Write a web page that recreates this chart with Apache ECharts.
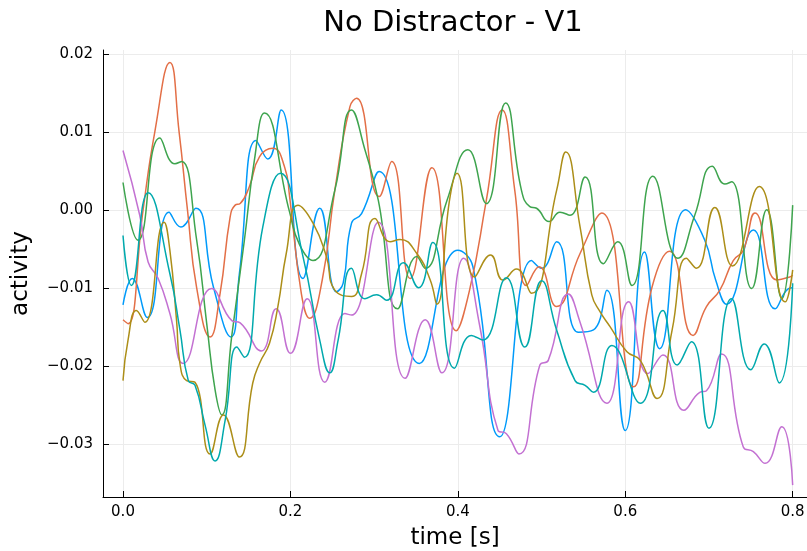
<!DOCTYPE html>
<html><head><meta charset="utf-8">
<script src="https://cdn.jsdelivr.net/npm/echarts@6/dist/echarts.min.js"></script>
<style>html,body{margin:0;padding:0;background:#fff}#c{width:807px;height:551px}</style>
</head><body><div id="c"></div>
<script>
// ---- data (time in s, activity) ----
const xTicks = [0, 0.2, 0.4, 0.6, 0.8];
const yTicks = [-0.03, -0.02, -0.01, 0.0, 0.01, 0.02];

const t1 = [0, 0.011, 0.029, 0.055, 0.069, 0.087, 0.108, 0.129, 0.139, 0.159, 0.173, 0.189, 0.215, 0.235, 0.255, 0.263, 0.273, 0.285, 0.306, 0.354, 0.400, 0.418, 0.450, 0.488, 0.500, 0.518, 0.544, 0.562, 0.578, 0.600, 0.623, 0.641, 0.672, 0.695, 0.708, 0.721, 0.753, 0.779, 0.795, 0.800];
const y1 = [-0.0122, -0.0088, -0.0138, -0.0003, -0.0022, 0.0002, -0.0099, -0.0163, -0.0082, 0.0089, 0.0065, 0.0128, -0.0088, 0.0002, -0.0105, -0.0094, -0.0017, -0.0005, 0.0049, -0.0197, -0.0052, -0.0073, -0.0291, -0.0065, -0.0075, -0.0041, -0.0157, -0.0154, -0.0103, -0.0283, -0.0054, -0.0178, 0.0000, -0.0039, -0.0090, -0.0121, -0.0026, -0.0127, -0.0101, -0.0100];

const t2 = [0, 0.006, 0.024, 0.038, 0.056, 0.067, 0.077, 0.088, 0.104, 0.116, 0.128, 0.134, 0.140, 0.151, 0.163, 0.179, 0.193, 0.199, 0.213, 0.223, 0.238, 0.253, 0.271, 0.279, 0.306, 0.321, 0.343, 0.369, 0.398, 0.414, 0.434, 0.453, 0.468, 0.482, 0.497, 0.518, 0.546, 0.572, 0.610, 0.632, 0.653, 0.681, 0.697, 0.713, 0.729, 0.741, 0.755, 0.781, 0.797, 0.800];
const y2 = [-0.0141, -0.0146, 0.0000, 0.0100, 0.0189, 0.0100, 0.0000, -0.0100, -0.0163, -0.0107, -0.0009, 0.0006, 0.0008, 0.0030, 0.0068, 0.0079, 0.0055, 0.0017, -0.0107, -0.0139, -0.0090, 0.0025, 0.0132, 0.0143, 0.0017, 0.0062, -0.0088, 0.0054, -0.0155, -0.0103, 0.0012, 0.0128, 0.0025, -0.0097, -0.0073, -0.0124, -0.0056, -0.0004, -0.0227, -0.0099, -0.0053, -0.0161, -0.0124, -0.0103, -0.0065, -0.0052, -0.0004, -0.0090, -0.0086, -0.0084];

const t3 = [0, 0.018, 0.044, 0.062, 0.070, 0.088, 0.100, 0.110, 0.118, 0.130, 0.145, 0.157, 0.169, 0.199, 0.211, 0.227, 0.253, 0.273, 0.289, 0.305, 0.328, 0.351, 0.361, 0.387, 0.412, 0.434, 0.457, 0.476, 0.486, 0.494, 0.509, 0.522, 0.534, 0.552, 0.574, 0.591, 0.608, 0.633, 0.663, 0.683, 0.704, 0.719, 0.727, 0.751, 0.769, 0.787, 0.800];
const y3 = [0.0035, -0.0039, 0.0092, 0.0059, 0.0062, -0.0039, -0.0146, -0.0231, -0.0263, -0.0161, -0.0039, 0.0064, 0.0124, -0.0003, -0.0045, -0.0065, 0.0025, 0.0128, 0.0077, 0.0012, -0.0127, -0.0060, -0.0075, 0.0012, 0.0077, 0.0008, 0.0137, 0.0025, 0.0004, 0.0002, -0.0015, -0.0003, -0.0007, 0.0042, -0.0069, -0.0041, -0.0097, 0.0043, -0.0062, -0.0007, 0.0056, 0.0033, 0.0036, -0.0101, 0.0000, -0.0114, 0.0006];

const t4 = [0, 0.020, 0.030, 0.042, 0.056, 0.072, 0.106, 0.130, 0.140, 0.165, 0.183, 0.200, 0.220, 0.241, 0.265, 0.273, 0.305, 0.337, 0.361, 0.381, 0.407, 0.426, 0.448, 0.458, 0.473, 0.498, 0.508, 0.532, 0.546, 0.578, 0.604, 0.627, 0.645, 0.670, 0.689, 0.697, 0.715, 0.741, 0.753, 0.767, 0.787, 0.800];
const y4 = [0.0076, -0.0007, -0.0067, -0.0088, -0.0133, -0.0197, -0.0101, -0.0142, -0.0145, -0.0181, -0.0127, -0.0184, -0.0114, -0.0221, -0.0133, -0.0135, -0.0016, -0.0216, -0.0141, -0.0209, -0.0062, -0.0148, -0.0283, -0.0287, -0.0313, -0.0199, -0.0193, -0.0108, -0.0144, -0.0248, -0.0118, -0.0210, -0.0186, -0.0257, -0.0234, -0.0232, -0.0185, -0.0304, -0.0310, -0.0325, -0.0278, -0.0353];

const t5 = [0, 0.006, 0.016, 0.026, 0.049, 0.056, 0.064, 0.068, 0.076, 0.086, 0.104, 0.120, 0.139, 0.155, 0.163, 0.175, 0.185, 0.195, 0.209, 0.227, 0.243, 0.253, 0.273, 0.285, 0.301, 0.319, 0.331, 0.351, 0.367, 0.375, 0.390, 0.399, 0.420, 0.439, 0.454, 0.470, 0.488, 0.518, 0.529, 0.546, 0.560, 0.570, 0.582, 0.602, 0.618, 0.638, 0.656, 0.673, 0.685, 0.707, 0.728, 0.760, 0.791, 0.800];
const y5 = [-0.0219, -0.0167, -0.0129, -0.0144, -0.0016, -0.0052, -0.0142, -0.0197, -0.0219, -0.0221, -0.0313, -0.0263, -0.0317, -0.0222, -0.0197, -0.0171, -0.0124, -0.0056, 0.0006, -0.0017, -0.0060, -0.0103, -0.0111, -0.0082, -0.0011, -0.0041, -0.0038, -0.0056, -0.0090, -0.0121, 0.0012, 0.0047, -0.0086, -0.0058, -0.0090, -0.0076, -0.0107, 0.0025, 0.0074, -0.0022, -0.0109, -0.0131, -0.0150, -0.0182, -0.0193, -0.0242, -0.0154, -0.0062, -0.0075, 0.0003, -0.0072, 0.0030, -0.0118, -0.0077];

const t6 = [0, 0.010, 0.030, 0.056, 0.068, 0.078, 0.086, 0.098, 0.110, 0.122, 0.136, 0.145, 0.167, 0.188, 0.215, 0.235, 0.247, 0.257, 0.273, 0.289, 0.303, 0.315, 0.335, 0.353, 0.370, 0.396, 0.416, 0.430, 0.458, 0.480, 0.500, 0.518, 0.540, 0.552, 0.562, 0.584, 0.618, 0.645, 0.662, 0.679, 0.700, 0.727, 0.750, 0.766, 0.784, 0.800];
const y6 = [-0.0033, -0.0097, 0.0022, -0.0082, -0.0154, -0.0219, -0.0225, -0.0276, -0.0322, -0.0270, -0.0176, -0.0189, -0.0022, 0.0047, -0.0060, -0.0167, -0.0209, -0.0167, -0.0075, -0.0114, -0.0109, -0.0116, -0.0068, -0.0100, -0.0042, -0.0203, -0.0161, -0.0167, -0.0087, -0.0176, -0.0091, -0.0154, -0.0219, -0.0225, -0.0234, -0.0174, -0.0248, -0.0129, -0.0199, -0.0169, -0.0280, -0.0114, -0.0205, -0.0172, -0.0222, -0.0094];

const seriesNames = ['y1', 'y2', 'y3', 'y4', 'y5', 'y6'];
const seriesT = [t1, t2, t3, t4, t5, t6];
const seriesY = [y1, y2, y3, y4, y5, y6];
const colors = ['#009AFA', '#E36F47', '#3EA44E', '#C371D2', '#AC8E18', '#00A9AD'];

// ---- chart ----
const FONT = 'DejaVu Sans';
const zip = (a, b) => a.map((v, i) => [v, b[i]]);
const fmtY = v => (v < -1e-9 ? '\u2212' + Math.abs(v).toFixed(2) : Math.abs(v).toFixed(2));
const fmtX = v => v.toFixed(1);

const chart = echarts.init(document.getElementById('c'), null, {renderer: 'canvas'});
const axisCommon = {
  type: 'value',
  nameLocation: 'middle',
  nameTextStyle: {fontFamily: FONT, fontSize: 23, color: '#000'},
  axisLine: {show: true, onZero: false, lineStyle: {color: '#000', width: 1}},
  splitLine: {show: true, lineStyle: {color: '#ececec', width: 1}}
};
chart.setOption({
  animation: false,
  backgroundColor: '#ffffff',
  color: colors,
  title: {
    text: 'No Distractor - V1', left: 448, top: 4, textAlign: 'center',
    textStyle: {fontFamily: FONT, fontSize: 29, fontWeight: 'normal', color: '#000'}
  },
  grid: {left: 103, right: 0, top: 50, bottom: 54, containLabel: false, outerBoundsMode: 'none'},
  xAxis: Object.assign({}, axisCommon, {
    min: -0.0239, max: 0.8171, name: 'time [s]', nameGap: 30,
    axisTick: {show: true, inside: true, length: 6, customValues: xTicks, lineStyle: {color: '#000', width: 1}},
    axisLabel: {customValues: xTicks, formatter: fmtX, fontFamily: FONT, fontSize: 15, color: '#000', margin: 8}
  }),
  yAxis: Object.assign({}, axisCommon, {
    min: -0.03682, max: 0.02049, name: 'activity', nameGap: 70, nameRotate: 90,
    axisTick: {show: true, inside: true, length: 6, customValues: yTicks, lineStyle: {color: '#000', width: 1}},
    axisLabel: {customValues: yTicks, formatter: fmtY, fontFamily: FONT, fontSize: 15, color: '#000', margin: 10}
  }),
  series: seriesNames.map((n, i) => ({
    name: n, type: 'line', data: zip(seriesT[i], seriesY[i]),
    showSymbol: false, smooth: 0.5,
    lineStyle: {width: 1.5, color: colors[i]}, z: 2 + i
  }))
});
</script></body></html>
